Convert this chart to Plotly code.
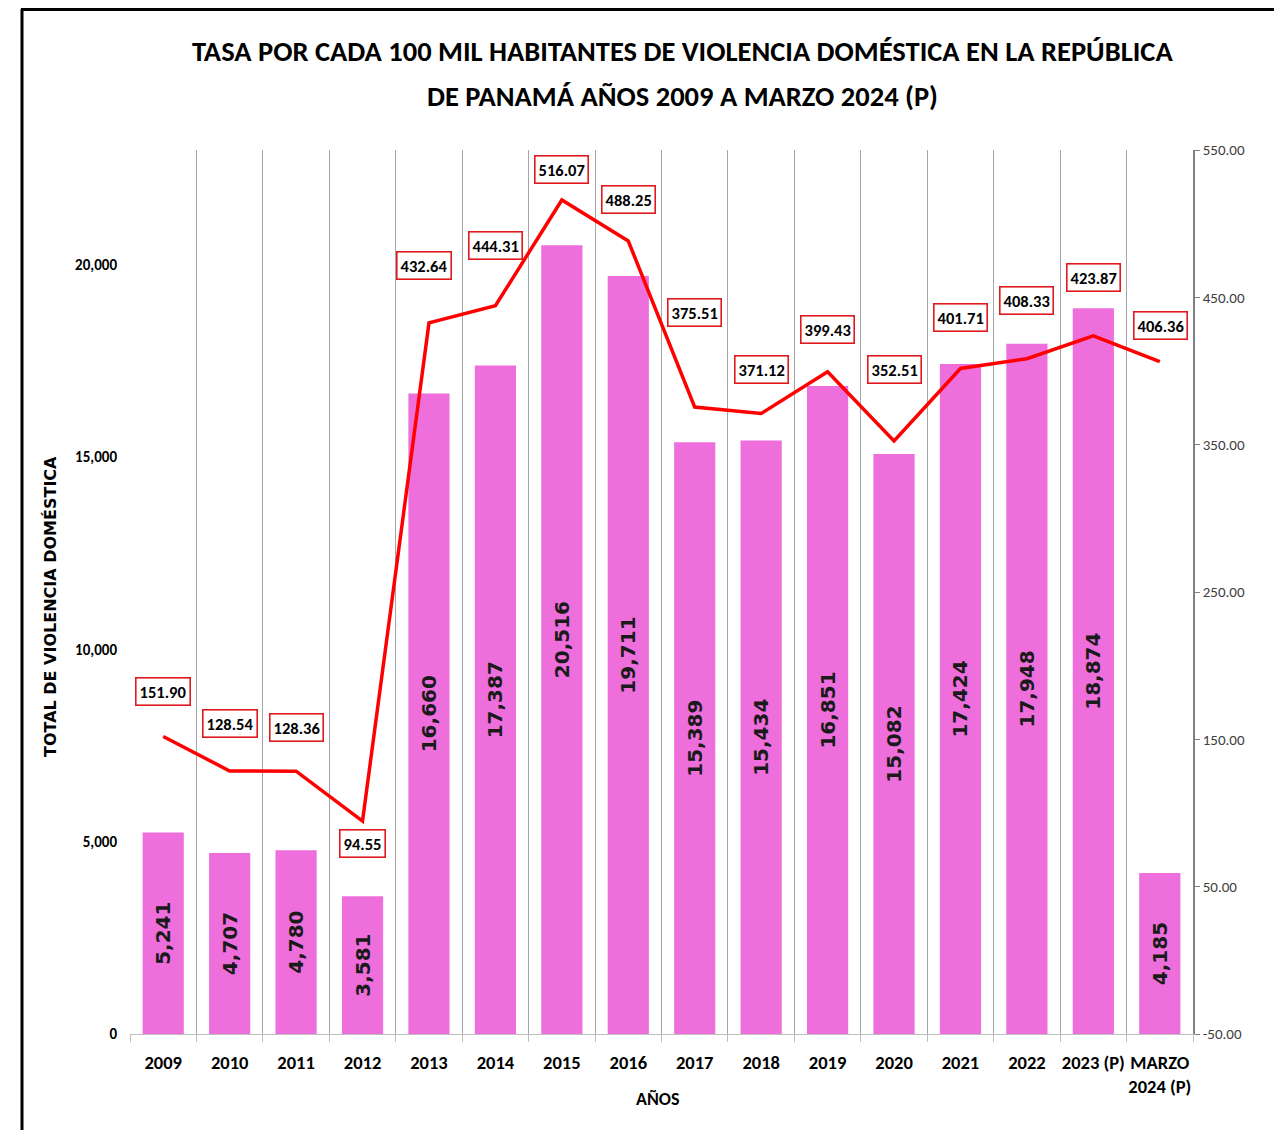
import plotly.graph_objects as go

categories = ["2009", "2010", "2011", "2012", "2013", "2014", "2015", "2016",
              "2017", "2018", "2019", "2020", "2021", "2022", "2023 (P)", "MARZO<br>2024 (P)"]
totals = [5241, 4707, 4780, 3581, 16660, 17387, 20516, 19711,
          15389, 15434, 16851, 15082, 17424, 17948, 18874, 4185]
rates = [151.90, 128.54, 128.36, 94.55, 432.64, 444.31, 516.07, 488.25,
         375.51, 371.12, 399.43, 352.51, 401.71, 408.33, 423.87, 406.36]
left_ticks = [0, 5000, 10000, 15000, 20000]
right_ticks = [-50, 50, 150, 250, 350, 450, 550]
title_lines = ["TASA POR CADA 100 MIL HABITANTES DE VIOLENCIA DOMÉSTICA EN LA REPÚBLICA",
               "DE PANAMÁ AÑOS 2009 A MARZO 2024 (P)"]

# label placement (pixel offsets from the line point), styling only
label_dy = [45, 47, 44, -22, 57, 60, 30, 41, 95, 44, 42, 71, 51, 58, 58, 36]
label_dx = [0, 0, 0, 0, -5, 0, 0, 0, 0, 0, 0, 0, 0, 0, 0, 1]

NARROW = "Carlito, Liberation Sans Narrow, Arial Narrow, Lato, sans-serif"
WIDE = "DejaVu Sans, Verdana, sans-serif"

# the page body has an 8px margin; figure is sized so the plot area lands at
# x 130..1193, y 150..1034 of the window
W, H = 1274, 1122
PL, PR, PT, PB = 122, 89, 142, 96
PW, PH = W - PL - PR, H - PT - PB


def px(xpix):
    return (xpix - 8 - PL) / PW


def py(ypix):
    return (H - PB - (ypix - 8)) / PH


xs = list(range(len(categories)))

fig = go.Figure()
fig.add_trace(go.Bar(
    x=xs, y=totals, width=0.62,
    marker=dict(color="#EE6FDC", line=dict(width=0)),
    text=[f"{v:,}" for v in totals], textposition="inside",
    insidetextanchor="middle", textangle=-90,
    textfont=dict(family=WIDE, size=20, color="#1a1a1a", weight="bold"),
    constraintext="none", cliponaxis=False, showlegend=False, hoverinfo="skip",
))
fig.add_trace(go.Scatter(
    x=xs, y=rates, yaxis="y2", mode="lines",
    line=dict(color="#FF0000", width=3.5), showlegend=False, hoverinfo="skip",
))

for i, r in enumerate(rates):
    fig.add_annotation(
        x=xs[i], y=r, xref="x", yref="y2", text=f"<b>{r:.2f}</b>",
        showarrow=False, yshift=label_dy[i], xshift=label_dx[i],
        xanchor="center", yanchor="middle",
        font=dict(family=NARROW, size=16.5, color="#000000"),
        bgcolor="white", bordercolor="#E0191E", borderwidth=1.6, borderpad=3,
    )

# title lines
for txt, ypix in zip(title_lines, [52, 96]):
    fig.add_annotation(
        x=px(682), y=py(ypix), xref="paper", yref="paper", text=f"<b>{txt}</b>",
        showarrow=False, xanchor="center", yanchor="middle",
        font=dict(family=NARROW, size=28.5, color="#000000"),
    )

fig.add_annotation(
    x=px(50), y=py(607), xref="paper", yref="paper", textangle=-90,
    text="<b>TOTAL DE VIOLENCIA DOMÉSTICA</b>", showarrow=False,
    xanchor="center", yanchor="middle",
    font=dict(family=WIDE, size=16, color="#000000"),
)
fig.add_annotation(
    x=px(657), y=py(1099), xref="paper", yref="paper",
    text="<b>AÑOS</b>", showarrow=False, xanchor="center", yanchor="middle",
    font=dict(family=NARROW, size=18, color="#000000"),
)

# outer frame
fig.add_shape(type="line", xref="paper", yref="paper", x0=px(22), x1=px(22),
              y0=py(9), y1=py(1140), line=dict(color="black", width=3))
fig.add_shape(type="line", xref="paper", yref="paper", x0=px(21), x1=px(1281),
              y0=py(9.5), y1=py(9.5), line=dict(color="black", width=3))
fig.add_shape(type="line", xref="paper", yref="paper", x0=px(1280), x1=px(1280),
              y0=py(9), y1=py(1140), line=dict(color="#666666", width=2))

fig.update_layout(
    width=W, height=H,
    margin=dict(l=PL, r=PR, t=PT, b=PB),
    paper_bgcolor="white", plot_bgcolor="white",
    xaxis=dict(
        range=[-0.5, len(categories) - 0.5], tickmode="array", tickvals=xs,
        ticktext=[f"<b>{c}</b>" for c in categories], ticks="",
        showgrid=False, showline=True, linecolor="#BFBFBF", linewidth=1,
        tickfont=dict(family=NARROW, size=18.5, color="#000000"),
        ticklabelstandoff=12,
        minor=dict(tickmode="linear", tick0=-0.5, dtick=1, showgrid=True,
                   gridcolor="#A6A6A6", gridwidth=1, ticks="outside",
                   ticklen=7, tickcolor="#BFBFBF"),
        zeroline=False, fixedrange=True,
    ),
    yaxis=dict(
        range=[0, 22990], tickmode="array", tickvals=left_ticks,
        ticktext=[f"<b>{v:,}</b>" for v in left_ticks],
        showgrid=False, showline=False, zeroline=False, ticks="",
        tickfont=dict(family=NARROW, size=15, color="#000000"),
        ticklabelstandoff=12,
    ),
    yaxis2=dict(
        range=[-50, 550], overlaying="y", side="right", tickmode="array",
        tickvals=right_ticks, ticktext=[f"{v:.2f}" for v in right_ticks],
        showgrid=False, showline=True, linecolor="#808080", linewidth=1.5,
        ticks="outside", ticklen=5, tickcolor="#808080", zeroline=False,
        tickfont=dict(family=NARROW, size=15, color="#404040"),
    ),
)

fig.write_html("out.html")
